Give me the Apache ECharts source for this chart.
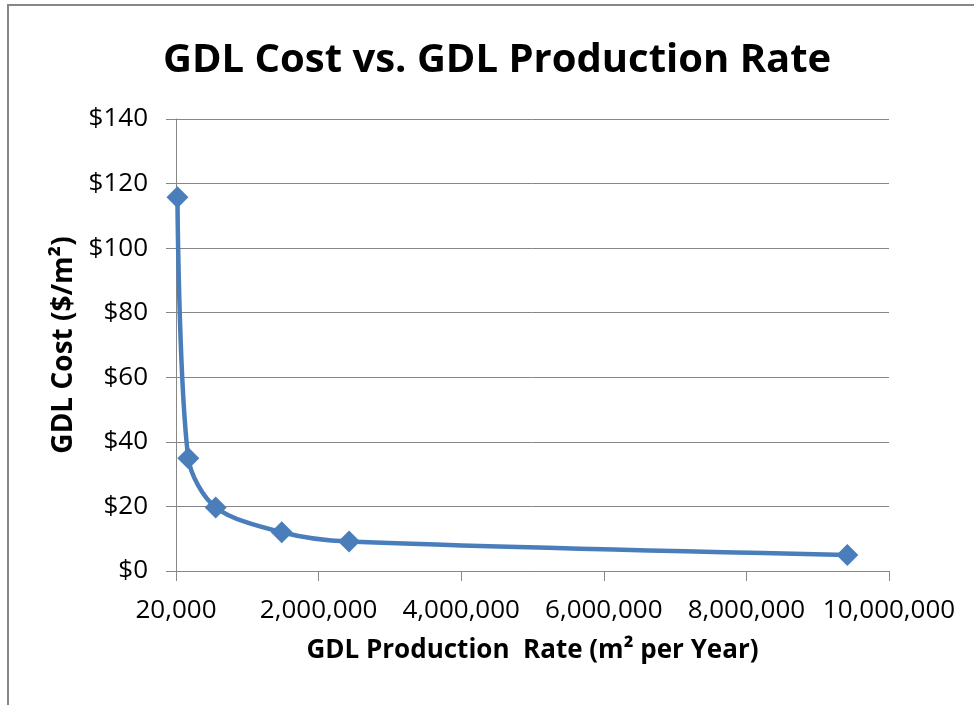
<!DOCTYPE html>
<html>
<head>
<meta charset="utf-8">
<script src="https://cdn.jsdelivr.net/npm/echarts@6/dist/echarts.min.js"></script>
<style>
  html, body { margin: 0; padding: 0; background: #fff; }
  #chart { width: 974px; height: 705px; }
</style>
</head>
<body>
<div id="chart"></div>
<script>
// production rate (m2 per year) and cost ($/m2)
var rates = [20000, 173000, 557000, 1483000, 2427000, 9415000];
var costs = [115.8, 34.9, 19.7, 12.0, 9.1, 4.95];
var xTickLabels = ['20,000', '2,000,000', '4,000,000', '6,000,000', '8,000,000', '10,000,000'];
var yTickLabels = ['$0', '$20', '$40', '$60', '$80', '$100', '$120', '$140'];

var font = '"Open Sans", "Noto Sans", sans-serif';
var gray = '#878787';

var chart = echarts.init(document.getElementById('chart'));

var points = [];
for (var i = 0; i < rates.length; i++) {
  points.push([rates[i], costs[i]]);
}

chart.setOption({
  animation: false,
  title: {
    text: 'GDL Cost vs. GDL Production Rate',
    left: 163,
    top: 41,
    padding: 0,
    textStyle: { fontFamily: font, fontSize: 40, fontWeight: 'bold', color: '#000' }
  },
  grid: { left: 176, right: 85, top: 119, bottom: 134 },
  xAxis: {
    type: 'value',
    min: 0,
    max: 10000000,
    interval: 2000000,
    name: 'GDL Production  Rate (m² per Year)',
    nameLocation: 'middle',
    nameGap: 67,
    nameTextStyle: { fontFamily: font, fontSize: 26, fontWeight: 'bold', color: '#000' },
    axisLine: { lineStyle: { color: gray, width: 1 } },
    axisTick: { show: true, length: 10, lineStyle: { color: gray } },
    splitLine: { show: false },
    axisLabel: {
      margin: 27,
      fontFamily: font,
      fontSize: 26,
      color: '#000',
      formatter: function (v) { return xTickLabels[Math.round(v / 2000000)]; }
    }
  },
  yAxis: {
    type: 'value',
    min: 0,
    max: 140,
    interval: 20,
    name: 'GDL Cost ($/m²)',
    nameLocation: 'middle',
    nameGap: 96,
    nameTextStyle: { fontFamily: font, fontSize: 28, fontWeight: 'bold', color: '#000' },
    axisLine: { show: true, lineStyle: { color: gray, width: 1 } },
    axisTick: { show: true, length: 10, lineStyle: { color: gray } },
    splitLine: { lineStyle: { color: gray, width: 1 } },
    axisLabel: {
      margin: 28,
      fontFamily: font,
      fontSize: 26,
      color: '#000',
      formatter: function (v) { return yTickLabels[Math.round(v / 20)]; }
    }
  },
  series: [{
    type: 'line',
    data: points,
    smooth: 0.3,
    symbol: 'diamond',
    symbolSize: 22,
    lineStyle: { color: '#4A7EBB', width: 4.5 },
    itemStyle: { color: '#4A7EBB' }
  }],
  graphic: [{
    type: 'polyline',
    shape: { points: [[8, 705], [8, 5], [974, 5]] },
    style: { stroke: gray, lineWidth: 2, fill: null }
  }]
});
</script>
</body>
</html>
